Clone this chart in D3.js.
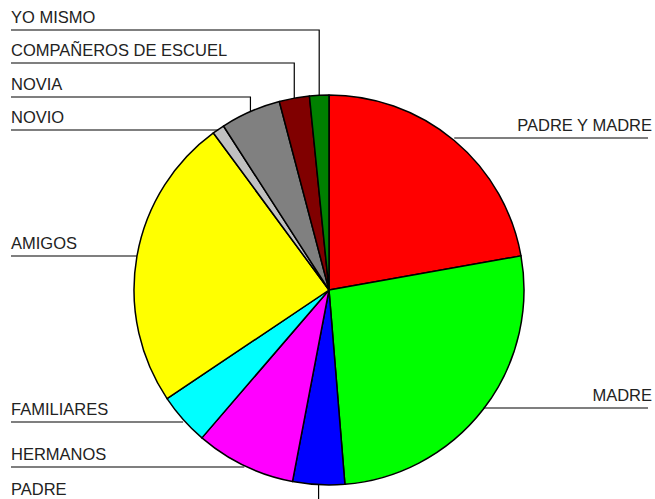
<!DOCTYPE html>
<html>
<head>
<meta charset="utf-8">
<script src="https://cdn.jsdelivr.net/npm/d3@7"></script>
<style>
  body { margin: 0; background: #fff; }
  text { font-family: Arial, "Liberation Sans", sans-serif; font-size: 16.5px; fill: #222; }
</style>
</head>
<body>
<div id="chart"></div>
<script>
// slice data, clockwise from 12 o'clock
var categories = ['PADRE Y MADRE', 'MADRE', 'PADRE', 'HERMANOS', 'FAMILIARES', 'AMIGOS', 'NOVIO', 'NOVIA', 'COMPAÑEROS DE ESCUEL', 'YO MISMO'];
var values = [22.2, 26.5, 4.3, 8.3, 4.3, 24.3, 1.0, 5.0, 2.5, 1.6];
var colors = ['#ff0000', '#00ff00', '#0000ff', '#ff00ff', '#00ffff', '#ffff00', '#c0c0c0', '#808080', '#800000', '#008000'];

var width = 655, height = 499;
var cx = 329, cy = 290, r = 195;

// where each label's underline sits (layout only)
var labelLine = {
  'PADRE Y MADRE': 138, 'MADRE': 408, 'PADRE': 502, 'HERMANOS': 467, 'FAMILIARES': 422,
  'AMIGOS': 256, 'NOVIO': 130, 'NOVIA': 97, 'COMPAÑEROS DE ESCUEL': 63, 'YO MISMO': 30
};

var svg = d3.select('#chart').append('svg')
  .attr('width', width)
  .attr('height', height);

var pie = d3.pie().sort(null).value(function (d) { return d; });
var arcs = pie(values);
var arc = d3.arc().innerRadius(0).outerRadius(r);

var g = svg.append('g').attr('transform', 'translate(' + cx + ',' + cy + ')');

g.selectAll('path')
  .data(arcs)
  .enter()
  .append('path')
  .attr('d', arc)
  .attr('fill', function (d, i) { return colors[i]; })
  .attr('stroke', '#000')
  .attr('stroke-width', 1.5)
  .attr('stroke-linejoin', 'round');

// leader lines + labels
arcs.forEach(function (d, i) {
  var name = categories[i];
  var mid = (d.startAngle + d.endAngle) / 2;
  var px = cx + r * Math.sin(mid);
  var py = cy - r * Math.cos(mid);
  var ly = labelLine[name];
  var right = Math.sin(mid) > 0;
  var endX = right ? 648 : 11;
  var pts;
  if (Math.abs(ly - py) <= 4) pts = [[px, ly], [endX, ly]];
  else pts = [[px, py], [px, ly], [endX, ly]];

  svg.append('path')
    .attr('d', d3.line()(pts))
    .attr('fill', 'none')
    .attr('stroke', '#000')
    .attr('stroke-width', 1.2);

  svg.append('text')
    .attr('x', right ? 652 : 11)
    .attr('y', ly - 7)
    .attr('text-anchor', right ? 'end' : 'start')
    .text(name);
});
</script>
</body>
</html>
